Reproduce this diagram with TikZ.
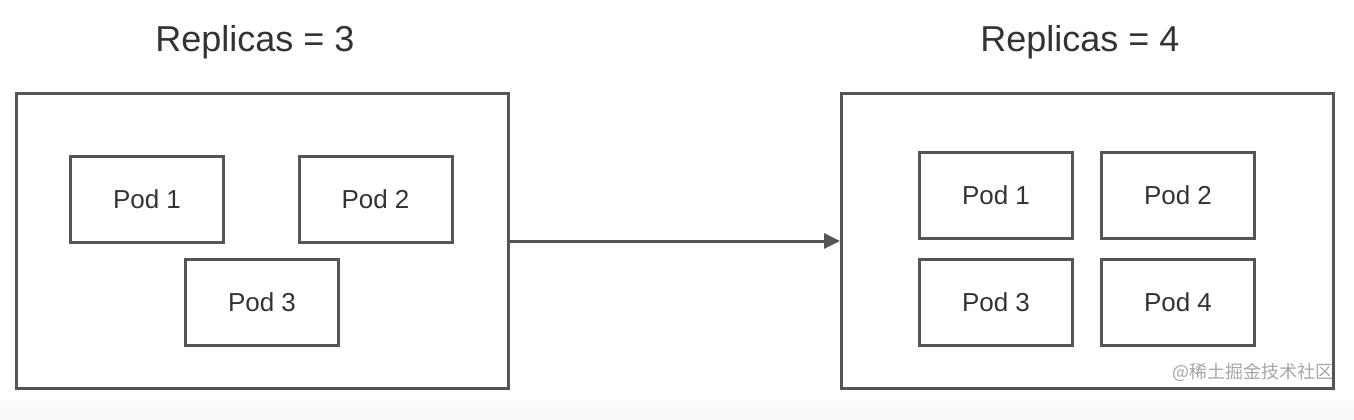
\documentclass[tikz,border=0pt]{standalone}
\usepackage{fontspec}
\setmainfont{Liberation Sans}
\newfontfamily\cjk{Noto Sans CJK SC}
\usetikzlibrary{arrows.meta,positioning}
\definecolor{boxgray}{HTML}{555555}
\definecolor{textgray}{HTML}{333333}
\begin{document}
\begin{tikzpicture}[x=1pt, y=-1pt, >={Triangle[length=16pt,width=15pt]}, line width=3pt,
    cluster/.style={rectangle, draw=boxgray, minimum width=492pt, minimum height=295pt},
    pod/.style={rectangle, draw=boxgray, minimum width=153pt, minimum height=86pt, text=textgray, font=\fontsize{26}{30}\selectfont},
    title/.style={text=textgray, font=\fontsize{36}{42}\selectfont}]
    \useasboundingbox (0,0) rectangle (1354,420);
    \fill[black!2] (0,401) rectangle (1354,420);
    % replica sets
    \node (L) [cluster] at (262.5,241) {};
    \node (R) [cluster] at (1087.5,241) {};
    \node (LT) [title] at (255,42) {Replicas = 3};
    \node (RT) [title] at (1080,42) {Replicas = 4};
    % pods before scaling
    \node (LA) [pod] at (147,199.5) {Pod 1};
    \node (LB) [pod] at (375.5,199.5) {Pod 2};
    \node (LC) [pod] at (262,302.5) {Pod 3};
    % pods after scaling
    \node (RA) [pod] at (996,195.5) {Pod 1};
    \node (RB) [pod] at (1178,195.5) {Pod 2};
    \node (RC) [pod] at (996,302.5) {Pod 3};
    \node (RD) [pod] at (1178,302.5) {Pod 4};
    \node (W) [text=black!35, font=\cjk\fontsize{18}{20}\selectfont, anchor=east, inner sep=0pt] at (1335,372) {@稀土掘金技术社区};

    \draw[->, boxgray] (L) -- (R);
\end{tikzpicture}
\end{document}
